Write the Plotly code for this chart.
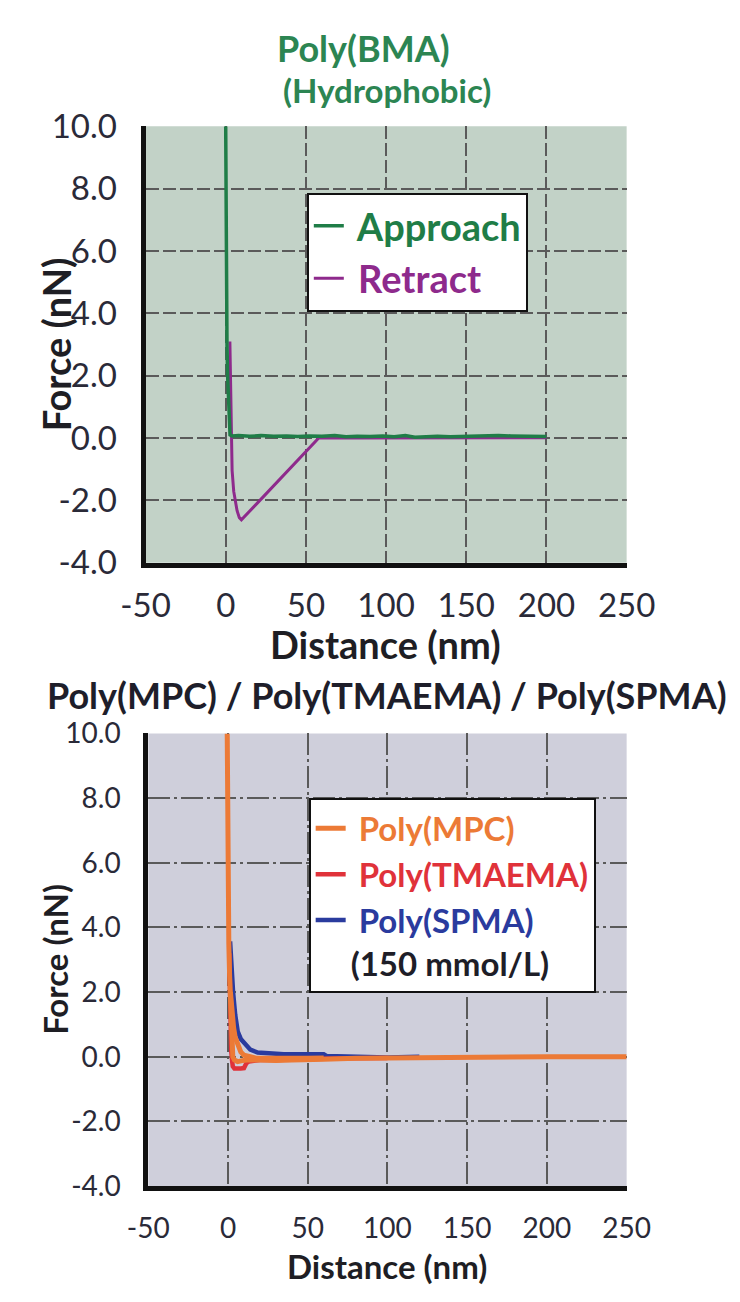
import plotly.graph_objects as go

# ---------------- data ----------------
# Top panel: Poly(BMA)
bma_approach_x = [0.0, 0.3, 0.8, 1.2, 2.0, 2.7, 4, 8, 15, 22, 30, 38, 45, 52, 60, 68, 75, 82, 90, 98, 105, 112, 118, 125, 132, 140, 148, 155, 162, 170, 178, 185, 192, 200]
bma_approach_y = [10.0, 6.0, 3.0, 2.0, 1.0, 0.1, 0.07, 0.08, 0.06, 0.08, 0.06, 0.07, 0.05, 0.07, 0.06, 0.08, 0.04, 0.06, 0.05, 0.07, 0.04, 0.08, 0.03, 0.05, 0.06, 0.04, 0.05, 0.07, 0.06, 0.08, 0.07, 0.06, 0.07, 0.05]
bma_retract_x = [2.6, 3.0, 3.5, 4.0, 5.0, 6.0, 7.1, 8.5, 9.8, 20, 30, 40, 50, 57, 58, 80, 120, 160, 200]
bma_retract_y = [3.1, 1.5, 0.0, -1.04, -1.71, -2.05, -2.33, -2.55, -2.62, -2.07, -1.52, -0.98, -0.43, -0.05, 0.0, 0.0, 0.01, 0.0, 0.01]

# Bottom panel
mpc_x = [-0.5, -0.3, 0.0, 0.5, 1.0, 1.5, 2.0, 2.5, 3.0, 4.0, 6.0, 9.0, 12, 20, 30, 40, 50, 60, 80, 100, 130, 160, 200, 250,
         None, 1.5, 2.5, 3.5, 4.5, 6.0, 8.0, 10, 13, 18, 25, 35, 50, 60]
mpc_y = [10.0, 7.0, 5.0, 3.5, 2.5, 1.8, 1.0, 0.4, 0.0, -0.1, -0.15, -0.12, -0.1, -0.1, -0.12, -0.1, -0.1, -0.08, -0.05, -0.04, -0.02, 0.0, 0.0, 0.0,
         None, 2.0, 1.3, 0.9, 0.6, 0.35, 0.15, 0.05, 0.0, -0.05, -0.05, -0.06, -0.05, -0.04]
tmaema_x = [0.8, 1.0, 1.3, 1.6, 2.0, 2.5, 3.0, 4, 6, 8, 10, 11.5, 13, 16, 20, 30, 40, 50, 60, 80, 100]
tmaema_y = [3.2, 2.5, 1.5, 0.8, 0.2, -0.1, -0.3, -0.36, -0.37, -0.36, -0.35, -0.2, -0.15, -0.12, -0.1, -0.1, -0.08, -0.08, -0.06, -0.05, -0.04]
spma_x = [1.3, 2.0, 3.2, 4.5, 6.1, 8, 10.9, 14, 18.6, 26, 35, 45, 60, 62, 80, 100, 120]
spma_y = [3.57, 2.7, 1.98, 1.3, 0.78, 0.55, 0.38, 0.22, 0.13, 0.1, 0.08, 0.08, 0.08, 0.02, 0.0, -0.02, 0.0]

x_ticks = [-50, 0, 50, 100, 150, 200, 250]
x_labels = ["-50", "0", "50", "100", "150", "200", "250"]
y_ticks = [-4, -2, 0, 2, 4, 6, 8, 10]
y_labels = ["-4.0", "-2.0", "0.0", "2.0", "4.0", "6.0", "8.0", "10.0"]

# ---------------- style ----------------
W, H = 740, 1302
FONT = "Lato"
GREEN = "#1f7d47"
PURPLE = "#8e2a8c"
ORANGE = "#ec7a36"
RED = "#e0323a"
BLUE = "#2a3b9e"
SP = "\u00a0"

def px_x(p):
    return p / W

def px_y(p):
    return 1 - p / H

fig = go.Figure()

fig.add_trace(go.Scatter(x=bma_retract_x, y=bma_retract_y, mode="lines",
                         name=f"<span style='color:{PURPLE}'>{SP}Retract</span>",
                         line=dict(color=PURPLE, width=3), xaxis="x", yaxis="y",
                         legend="legend", legendrank=2))
fig.add_trace(go.Scatter(x=bma_approach_x, y=bma_approach_y, mode="lines",
                         name=f"<span style='color:{GREEN}'>{SP}Approach</span>",
                         line=dict(color=GREEN, width=3.5), xaxis="x", yaxis="y",
                         legend="legend", legendrank=1))

fig.add_trace(go.Scatter(x=spma_x, y=spma_y, mode="lines",
                         name=f"<span style='color:{BLUE}'>{SP}Poly(SPMA)</span><br><span style='color:#1e1e28'>(150 mmol/L)</span>",
                         line=dict(color=BLUE, width=4.5), xaxis="x2", yaxis="y2",
                         legend="legend2", legendrank=3))
fig.add_trace(go.Scatter(x=tmaema_x, y=tmaema_y, mode="lines",
                         name=f"<span style='color:{RED}'>{SP}Poly(TMAEMA)</span>",
                         line=dict(color=RED, width=4.5), xaxis="x2", yaxis="y2",
                         legend="legend2", legendrank=2))
fig.add_trace(go.Scatter(x=mpc_x, y=mpc_y, mode="lines",
                         name=f"<span style='color:{ORANGE}'>{SP}Poly(MPC)</span>",
                         line=dict(color=ORANGE, width=5), xaxis="x2", yaxis="y2",
                         legend="legend2", legendrank=1, connectgaps=False))

def xaxis(domain, anchor, griddash, fs, stand):
    return dict(domain=domain, anchor=anchor, range=[-50, 250],
                tickvals=x_ticks, ticktext=x_labels,
                showline=True, linecolor="#111111", linewidth=5, mirror=False,
                showgrid=True, gridcolor="#5a5a5a", gridwidth=1.6, griddash=griddash,
                zeroline=False, ticks="", ticklabelstandoff=stand,
                tickfont=dict(family=FONT, size=fs, color="#2a2a38"))

def yaxis(domain, anchor, griddash, fs, stand):
    return dict(domain=domain, anchor=anchor, range=[-4, 10],
                tickvals=y_ticks, ticktext=y_labels,
                showline=True, linecolor="#111111", linewidth=5, mirror=False,
                showgrid=True, gridcolor="#5a5a5a", gridwidth=1.6, griddash=griddash,
                zeroline=False, ticks="", ticklabelstandoff=stand,
                tickfont=dict(family=FONT, size=fs, color="#2a2a38"))

def label(text, x, y, size, color, angle=0):
    return dict(text=text, x=px_x(x), y=px_y(y), xref="paper", yref="paper",
                showarrow=False, xanchor="center", yanchor="middle", textangle=angle,
                font=dict(family=FONT, size=size, color=color, weight="bold"))

fig.update_layout(
    width=W, height=H,
    margin=dict(l=0, r=0, t=0, b=0),
    paper_bgcolor="white",
    plot_bgcolor="rgba(0,0,0,0)",
    xaxis=xaxis([px_x(130), px_x(649)], "y", "13px,4px", 33, 10),
    yaxis=yaxis([px_y(559), px_y(108.6)], "x", "13px,4px", 33, 17),
    xaxis2=xaxis([px_x(133), px_x(649)], "y2", "22px,4px,3px,4px", 28, 13),
    yaxis2=yaxis([px_y(1202), px_y(735)], "x2", "22px,4px,3px,4px", 28, 17),
    legend=dict(x=px_x(304), y=px_y(177), xanchor="left", yanchor="top",
                bgcolor="white", bordercolor="#111111", borderwidth=2,
                font=dict(family=FONT, size=38, weight="bold"),
                itemwidth=30, tracegroupgap=0),
    legend2=dict(x=px_x(306), y=px_y(802), xanchor="left", yanchor="top",
                 bgcolor="white", bordercolor="#111111", borderwidth=2,
                 font=dict(family=FONT, size=33, weight="bold"),
                 itemwidth=30, tracegroupgap=0, valign="top"),
    shapes=[
        dict(type="rect", xref="x domain", yref="y domain", x0=0, x1=1, y0=0, y1=1,
             fillcolor="#c2d2c7", line=dict(width=0), layer="below"),
        dict(type="rect", xref="x2 domain", yref="y2 domain", x0=0, x1=1, y0=0, y1=1,
             fillcolor="#cfcfdb", line=dict(width=0), layer="below"),
    ],
    annotations=[
        label("Poly(BMA)", 365, 28, 36, "#2c8552"),
        label("(Hydrophobic)", 390, 71, 33, "#2c8552"),
        label("Poly(MPC) / Poly(TMAEMA) / Poly(SPMA)", 390, 695, 36, "#1e1e2a"),
        label("Distance (nm)", 389, 643, 38, "#1e1e24"),
        label("Force (nN)", 33, 334, 38, "#1e1e24", -90),
        label("Distance (nm)", 391, 1284, 33, "#1e1e24"),
        label("Force (nN)", 33, 968, 33, "#1e1e24", -90),
    ],
)

fig.write_html("out.html")
